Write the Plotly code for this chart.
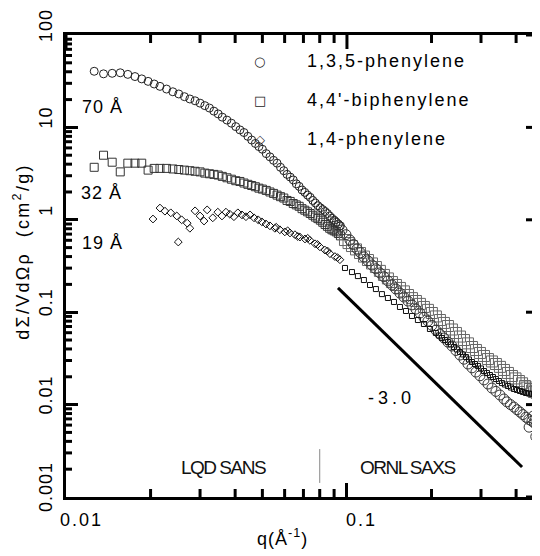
import math
import plotly.graph_objects as go

FONT = "Liberation Sans, Arial, Helvetica, sans-serif"
SYMFONT = "DejaVu Sans"

# ---------------- data ----------------
q_sans = [0.0126, 0.0136, 0.0146, 0.0156, 0.0166, 0.0176, 0.0186, 0.0196, 0.0206, 0.0216,
          0.0228, 0.0240, 0.0252, 0.0264, 0.0276, 0.0288, 0.0300, 0.0312, 0.0324, 0.0336,
          0.0348, 0.0360, 0.0374, 0.0388, 0.0402, 0.0416, 0.0430, 0.0444, 0.0458, 0.0472,
          0.0486, 0.0500, 0.0516, 0.0532, 0.0548, 0.0564, 0.0580, 0.0596, 0.0612, 0.0628,
          0.0644, 0.0660, 0.0676, 0.0692, 0.0708, 0.0724, 0.0740, 0.0756, 0.0772, 0.0788,
          0.0804, 0.0820, 0.0836, 0.0852, 0.0868, 0.0884, 0.0900, 0.0916, 0.0932, 0.0948]

I_135_sans = [40.5, 38.0, 38.5, 39.0, 37.5, 35.5, 33.5, 31.5, 29.5, 27.8,
              26.0, 24.3, 23.0, 21.5, 20.3, 19.4, 18.3, 17.2, 16.2, 15.0,
              14.0, 12.9, 12.0, 11.1, 10.2, 9.4, 8.8, 8.0, 7.3, 6.7,
              6.2, 5.8, 5.2, 4.8, 4.4, 4.1, 3.7, 3.4, 3.1, 2.9,
              2.7, 2.45, 2.3, 2.1, 1.98, 1.85, 1.75, 1.62, 1.52, 1.42,
              1.35, 1.29, 1.23, 1.17, 1.10, 1.04, 0.99, 0.94, 0.90, 0.86]

I_44bi_sans = [3.7, 5.0, 4.2, 3.3, 4.1, 4.1, 4.1, 3.45, 3.6, 3.6,
               3.6, 3.55, 3.5, 3.45, 3.4, 3.35, 3.3, 3.2, 3.15, 3.1,
               3.05, 2.95, 2.85, 2.75, 2.65, 2.6, 2.5, 2.42, 2.35, 2.28,
               2.2, 2.15, 2.08, 2.0, 1.93, 1.85, 1.78, 1.72, 1.62, 1.58,
               1.5, 1.45, 1.4, 1.32, 1.27, 1.22, 1.17, 1.12, 1.07, 1.03,
               0.99, 0.94, 0.89, 0.85, 0.81, 0.78, 0.76, 0.74, 0.71, 0.67]

q_14_sans = [0.0204, 0.0216, 0.0225, 0.0236, 0.0248, 0.0251, 0.0258, 0.0270, 0.0276, 0.0288,
             0.0300, 0.0310, 0.0318, 0.0333, 0.0347, 0.0359, 0.0371, 0.0383, 0.0396, 0.0409,
             0.0423, 0.0437, 0.0452, 0.0467, 0.0483, 0.0498, 0.0515, 0.0532, 0.0554, 0.0560,
             0.0577, 0.0601, 0.0615, 0.0627, 0.0653, 0.0668, 0.0680, 0.0709, 0.0725, 0.0738,
             0.0770, 0.0786, 0.0801, 0.0835, 0.0852, 0.0870, 0.0906, 0.0925, 0.0944]
I_14_sans = [1.02, 1.34, 1.24, 1.19, 1.10, 0.575, 1.0, 0.92, 0.81, 1.25,
             1.10, 0.97, 1.28, 1.05, 1.21, 1.10, 1.21, 1.15, 1.08, 1.19,
             1.13, 1.08, 1.13, 1.05, 1.0, 0.95, 0.90, 0.86, 0.81, 0.83,
             0.78, 0.74, 0.76, 0.72, 0.69, 0.66, 0.65, 0.62, 0.63, 0.60,
             0.55, 0.54, 0.51, 0.47, 0.46, 0.43, 0.40, 0.39, 0.37]

q_135_saxs = [0.0906, 0.0932, 0.0960, 0.0992, 0.1025, 0.1055, 0.1085, 0.1117, 0.1149, 0.1188,
              0.1228, 0.1268, 0.1310, 0.1354, 0.1399, 0.1446, 0.1494, 0.1544, 0.1595, 0.1649,
              0.1704, 0.1760, 0.1819, 0.1879, 0.1942, 0.2006, 0.2073, 0.2143, 0.2214, 0.2288,
              0.2364, 0.2443, 0.2525, 0.2609, 0.2696, 0.2786, 0.2878, 0.2974, 0.3074, 0.3176,
              0.3281, 0.3390, 0.3504, 0.3621, 0.3711, 0.3820, 0.3930, 0.4030, 0.413, 0.4230,
              0.4336, 0.4440, 0.4555, 0.4650, 0.474, 0.445, 0.470, 0.460]
I_135_saxs = [0.947, 0.86, 0.776, 0.69, 0.604, 0.54, 0.483, 0.44, 0.396, 0.36,
              0.324, 0.295, 0.266, 0.242, 0.218, 0.197, 0.178, 0.161, 0.146, 0.132,
              0.120, 0.108, 0.098, 0.088, 0.080, 0.072, 0.064, 0.058, 0.0526, 0.0475,
              0.0431, 0.0385, 0.0344, 0.031, 0.0275, 0.0250, 0.0225, 0.0205, 0.0185, 0.0167,
              0.0151, 0.0139, 0.0127, 0.0115, 0.0107, 0.0100, 0.0094, 0.0088, 0.0083, 0.0078,
              0.0073, 0.0069, 0.0066, 0.0063, 0.0060, 0.0057, 0.0045, 0.0075]

q_44bi_saxs = [0.0984, 0.1013, 0.1042, 0.1077, 0.1113, 0.1150, 0.1188, 0.1228, 0.1268, 0.1310,
               0.1354, 0.1399, 0.1446, 0.1494, 0.1544, 0.1595, 0.1649, 0.1704, 0.1760, 0.1819,
               0.1879, 0.1942, 0.2006, 0.2073, 0.2143, 0.2214, 0.2288, 0.2364, 0.2443, 0.2525,
               0.2609, 0.2696, 0.2786, 0.2878, 0.2974, 0.3074, 0.3176, 0.3281, 0.3390, 0.3504,
               0.3621, 0.3741, 0.3866, 0.3980, 0.4093, 0.4200, 0.4301, 0.4390, 0.448, 0.4560,
               0.4630, 0.4700, 0.474]
I_44bi_saxs = [0.604, 0.56, 0.520, 0.478, 0.437, 0.40, 0.367, 0.337, 0.308, 0.280,
               0.253, 0.232, 0.212, 0.197, 0.183, 0.168, 0.1535, 0.142, 0.1322, 0.123,
               0.1139, 0.106, 0.0980, 0.090, 0.0823, 0.0765, 0.0709, 0.065, 0.0596, 0.0545,
               0.0500, 0.046, 0.0420, 0.039, 0.0362, 0.0336, 0.0311, 0.0293, 0.0275, 0.0256,
               0.0237, 0.0220, 0.0204, 0.0192, 0.0180, 0.0170, 0.0159, 0.0153, 0.01475, 0.0142,
               0.01369, 0.0140, 0.01335]

q_14_saxs = [0.0984, 0.1042, 0.1094, 0.1149, 0.1208, 0.1268, 0.1332, 0.1399, 0.1470, 0.1544,
             0.1622, 0.1704, 0.1789, 0.1879, 0.1974, 0.2073, 0.2125, 0.2178, 0.2232, 0.2288,
             0.2345, 0.2403, 0.2463, 0.2525, 0.2588, 0.2652, 0.2718, 0.2786, 0.2856, 0.2926,
             0.3000, 0.3074, 0.3150, 0.3228, 0.3308, 0.3390, 0.3475, 0.3562, 0.3650, 0.3741,
             0.3835, 0.3930, 0.4030, 0.413, 0.4230, 0.4336, 0.4445, 0.4555, 0.4650, 0.474]
I_14_saxs = [0.301, 0.272, 0.246, 0.223, 0.197, 0.178, 0.157, 0.1425, 0.1290, 0.1139,
             0.1030, 0.0910, 0.0823, 0.0745, 0.0658, 0.0596, 0.056, 0.0526, 0.050, 0.0476,
             0.0447, 0.0420, 0.0395, 0.0371, 0.0349, 0.0327, 0.0308, 0.0289, 0.0275, 0.0262,
             0.0246, 0.0231, 0.0220, 0.0209, 0.0199, 0.0189, 0.0180, 0.0171, 0.0165, 0.0159,
             0.0153, 0.01475, 0.0144, 0.01404, 0.0137, 0.01335, 0.0132, 0.01302, 0.0129, 0.01270]

slope_q = [0.0929, 0.42]
slope_I = [0.183, 0.00211]
split_q = [0.080, 0.080]
split_I = [0.00142, 0.0033]

series_names = ["1,3,5-phenylene", "4,4'-biphenylene", "1,4-phenylene"]
series_keys = ["○", "□", "◇"]

x_ticks = [0.01, 0.1]
x_ticktext = ["0.01", "0.1"]
y_ticks = [0.001, 0.01, 0.1, 1, 10, 100]
y_ticktext = ["0.001", "0.01", "0.1", "1", "10", "100"]

x_minor = [m * 10.0 ** k for k in (-2, -1) for m in range(2, 10)]
y_minor = [m * 10.0 ** k for k in range(-3, 2) for m in range(2, 10)]

X_RANGE = [-2, -0.32]
Y_RANGE = [-3, 2]
PLOT_W, PLOT_H = 472, 462


def sp(t, s=2):
    return '<span style="letter-spacing:%spx">%s</span>' % (s, t)


fig = go.Figure()


def add_markers(x, y, symbol, size, color):
    fig.add_trace(go.Scatter(x=x, y=y, mode="markers", showlegend=False,
                             marker=dict(symbol=symbol, size=size, color=color,
                                         line=dict(width=1, color=color))))


add_markers(q_sans, I_135_sans, "circle-open", 8, "#222")
add_markers(q_sans, I_44bi_sans, "square-open", 8, "#333")
add_markers(q_14_sans, I_14_sans, "diamond-open", 6, "#111")
add_markers(q_44bi_saxs, I_44bi_saxs, "square-open", 11, "#666")
add_markers(q_135_saxs, I_135_saxs, "circle-open", 10, "#333")
add_markers(q_14_saxs, I_14_saxs, "square-open", 5, "#111")
fig.add_trace(go.Scatter(x=slope_q, y=slope_I, mode="lines", showlegend=False,
                         line=dict(color="black", width=3)))
fig.add_trace(go.Scatter(x=split_q, y=split_I, mode="lines", showlegend=False,
                         line=dict(color="#888", width=1)))

fig.update_layout(
    template="none",
    showlegend=False,
    xaxis=dict(type="log", range=X_RANGE, tickvals=x_ticks, showticklabels=False,
               showline=True, linewidth=3, linecolor="black", mirror=True,
               ticks="inside", ticklen=14, tickwidth=3, tickcolor="black",
               showgrid=False, zeroline=False),
    yaxis=dict(type="log", range=Y_RANGE, tickvals=y_ticks, showticklabels=False,
               showline=True, linewidth=3, linecolor="black", mirror=True,
               ticks="inside", ticklen=12, tickwidth=3, tickcolor="black",
               showgrid=False, zeroline=False),
)


def fx(v):
    return (math.log10(v) - X_RANGE[0]) / (X_RANGE[1] - X_RANGE[0])


def fy(v):
    return (math.log10(v) - Y_RANGE[0]) / (Y_RANGE[1] - Y_RANGE[0])


# mirrored (top/right) and minor ticks, in axis-domain units from the tick values
shapes = []
tick_line = dict(color="black", width=3)
for vals, ln, both in ((x_ticks, 14, False), (x_minor, 8, True)):
    for v in vals:
        f = fx(v)
        if 0 <= f <= 1:
            d = ln / PLOT_H
            if both:
                shapes.append(dict(type="line", xref="x domain", yref="y domain",
                                   x0=f, x1=f, y0=0, y1=d, line=tick_line))
            shapes.append(dict(type="line", xref="x domain", yref="y domain",
                               x0=f, x1=f, y0=1, y1=1 - d, line=tick_line))
for vals, ln, both in ((y_ticks, 12, False), (y_minor, 6, True)):
    for v in vals:
        f = fy(v)
        if 0 <= f <= 1:
            d = ln / PLOT_W
            if both:
                shapes.append(dict(type="line", xref="x domain", yref="y domain",
                                   x0=0, x1=d, y0=f, y1=f, line=tick_line))
            shapes.append(dict(type="line", xref="x domain", yref="y domain",
                               x0=1, x1=1 - d, y0=f, y1=f, line=tick_line))

ann = []
def add_text(x, y, text, size=18, color="black", angle=0, family=FONT, **kw):
    d = dict(x=x, y=y, xref="paper", yref="paper", text=text, showarrow=False,
             xanchor="center", yanchor="middle", textangle=angle,
             font=dict(family=family, size=size, color=color))
    d.update(kw)
    ann.append(d)

for v, t in zip(y_ticks, y_ticktext):
    add_text(-0.0424, math.log10(v), sp(t, 1), angle=-90, yref="y", yshift=10)
for v, t in zip(x_ticks, x_ticktext):
    add_text(math.log10(v), -0.050, sp(t, 2), xref="x", xshift=15)

# legend: key symbol + name
for i, (key, name) in enumerate(zip(series_keys, series_names)):
    yy = 0.943 - i * 0.0845
    add_text(0.411, yy, key, size=13, color="#222", family=SYMFONT)
    add_text(0.506, yy, sp(name, 2), xanchor="left")

add_text(0.078, 0.844, sp("70 Å", 1))
add_text(0.076, 0.658, sp("32 Å", 1))
add_text(0.078, 0.550, sp("19 Å", 1))
add_text(0.690, 0.214, sp("-3.0", 4))
add_text(0.333, 0.063, sp("LQD SANS", -1.5), size=19, color="#111")
add_text(0.7225, 0.063, sp("ORNL SAXS", -1.5), size=19, color="#111")
add_text(-0.094, 0.532, sp("dΣ/VdΩρ  (cm<sup>2</sup>/g)", 2.3), angle=-90)
add_text(0.458, -0.088, sp("q(Å<sup>-1</sup>)", 1))

# the page adds an 8 px body margin, so the figure is 8 px smaller and margins compensate
fig.update_layout(
    width=532, height=548,
    margin=dict(l=58, r=2, t=27, b=59),
    annotations=ann,
    shapes=shapes,
)

fig.write_html("out.html")
